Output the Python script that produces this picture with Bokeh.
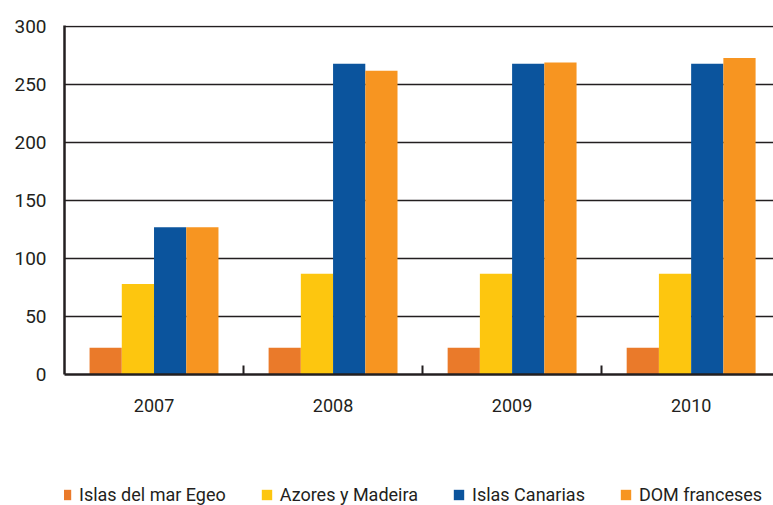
from bokeh.plotting import figure
from bokeh.layouts import column
from bokeh.models import FixedTicker, Legend, LegendItem, ColumnDataSource, Range1d
from bokeh.embed import file_html
from bokeh.resources import INLINE

years = ["2007", "2008", "2009", "2010"]
series_names = ["Islas del mar Egeo", "Azores y Madeira", "Islas Canarias", "DOM franceses"]
egeo = [23, 23, 23, 23]
azores = [78, 87, 87, 87]
canarias = [127, 268, 268, 268]
dom = [127, 262, 269, 273]
y_ticks = [0, 50, 100, 150, 200, 250, 300]

colors = ["#EA7A2A", "#FDC60F", "#0B549D", "#F79521"]
FONT = "Roboto"
INK = "#231F20"

p = figure(width=773, height=430,
           x_range=Range1d(0, 3.96), y_range=Range1d(0, 301),
           output_backend="svg", toolbar_location=None,
           min_border_left=64, min_border_right=0, min_border_top=25, min_border_bottom=56)
p.outline_line_color = None
p.background_fill_color = "white"
p.xgrid.grid_line_color = None
p.ygrid.grid_line_color = INK
p.ygrid.grid_line_width = 1.5
p.ygrid.ticker = FixedTicker(ticks=y_ticks)

values = [egeo, azores, canarias, dom]
offsets = [-0.27, -0.09, 0.09, 0.27]
bar_w = 0.18
for name, vals, off, col in zip(series_names, values, offsets, colors):
    src = ColumnDataSource(dict(x=[i + 0.5 + off for i in range(len(years))], top=vals))
    p.vbar(x="x", top="top", width=bar_w, bottom=0, source=src,
           fill_color=col, line_color=None)

# y axis
ya = p.yaxis[0]
ya.ticker = FixedTicker(ticks=y_ticks)
ya.major_tick_out = 0
ya.major_tick_in = 0
ya.minor_tick_out = 0
ya.minor_tick_in = 0
ya.axis_line_color = INK
ya.axis_line_width = 2.5
ya.major_label_text_font = FONT
ya.major_label_text_font_size = "19px"
ya.major_label_text_color = INK
ya.major_label_standoff = 18

# x axis
xa = p.xaxis[0]
xa.ticker = FixedTicker(ticks=[i + 0.5 for i in range(len(years))],
                        minor_ticks=[1, 2, 3])
xa.major_label_overrides = {i + 0.5: y for i, y in enumerate(years)}
xa.major_tick_out = 0
xa.major_tick_in = 0
xa.minor_tick_in = 9
xa.minor_tick_out = 0
xa.minor_tick_line_color = INK
xa.minor_tick_line_width = 2
xa.axis_line_color = INK
xa.axis_line_width = 2.5
xa.major_label_text_font = FONT
xa.major_label_text_font_size = "18px"
xa.major_label_text_color = INK
xa.major_label_standoff = 24

# legend strip: same series drawn out of view, only the legend shows
lp = figure(width=773, height=75, x_range=Range1d(0, 4), y_range=Range1d(1000, 1001),
            output_backend="svg", toolbar_location=None,
            x_axis_location=None, y_axis_location=None,
            min_border_left=0, min_border_right=0, min_border_top=0, min_border_bottom=0)
lp.outline_line_color = None
lp.xgrid.grid_line_color = None
lp.ygrid.grid_line_color = None
leg_renderers = []
for name, vals, off, col in zip(series_names, values, offsets, colors):
    src = ColumnDataSource(dict(x=[i + 0.5 + off for i in range(len(years))], top=vals))
    r = lp.vbar(x="x", top="top", width=bar_w, bottom=0, source=src,
                fill_color=col, line_color=None)
    leg_renderers.append(r)

legend = Legend(items=[LegendItem(label=n, renderers=[r]) for n, r in zip(series_names, leg_renderers)],
                orientation="horizontal", location=(-5, 0),
                label_text_font=FONT, label_text_font_size="18px", label_text_color=INK,
                glyph_width=13, glyph_height=13, label_standoff=7, spacing=34,
                padding=0, margin=0, border_line_color=None, background_fill_alpha=0)
lp.add_layout(legend, "center")

open("out.html", "w").write(file_html(column(p, lp), INLINE))
